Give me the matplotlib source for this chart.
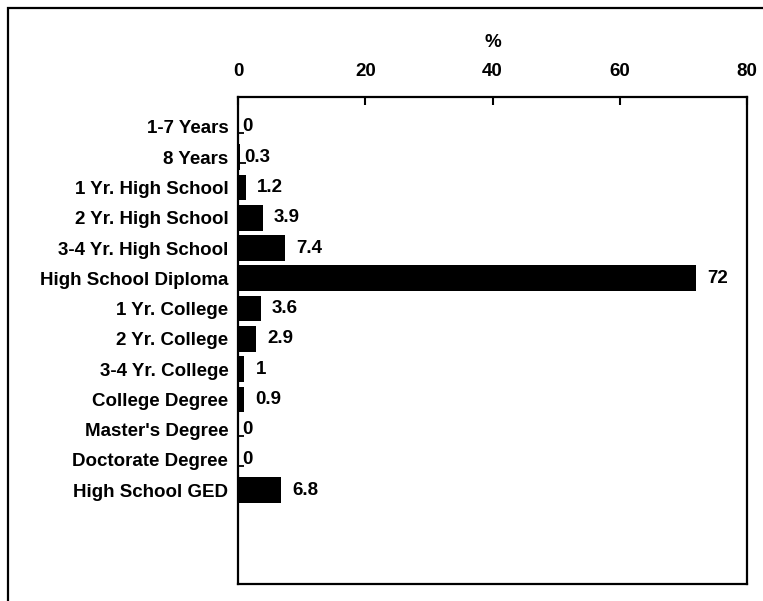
import matplotlib
matplotlib.use("Agg")
import matplotlib.pyplot as plt
from matplotlib.patches import Rectangle

# --- Data ---
categories = ["1-7 Years", "8 Years", "1 Yr. High School", "2 Yr. High School",
              "3-4 Yr. High School", "High School Diploma", "1 Yr. College",
              "2 Yr. College", "3-4 Yr. College", "College Degree",
              "Master's Degree", "Doctorate Degree", "High School GED"]
percent = [0, 0.3, 1.2, 3.9, 7.4, 72, 3.6, 2.9, 1, 0.9, 0, 0, 6.8]
x_ticks = [0, 20, 40, 60, 80]

plt.rcParams['font.family'] = ['Liberation Sans', 'DejaVu Sans']
plt.rcParams['font.weight'] = 'bold'
FS = 13.5

fig = plt.figure(figsize=(7.63, 6.01), dpi=100)
left, right, top, bottom = 238 / 763, 747 / 763, 97 / 601, 584 / 601
ax = fig.add_axes([left, 1 - bottom, right - left, bottom - top])

# outer frame (only left and top edges visible in the reference)
fig.patches.append(Rectangle((0.01, -0.2), 1.5, 1.2 - 0.014, transform=fig.transFigure,
                             fill=False, edgecolor='black', linewidth=1.6))

ypos = list(range(len(categories)))
ax.barh(ypos, percent, height=0.85, color='black')

for y, v in zip(ypos, percent):
    txt = f"{v:g}"
    if v < 0.5:
        # short leader line for tiny values, sitting on the label's baseline
        ax.hlines(y + 0.2, v, v + 1.0, color='black', linewidth=1.3)
        ax.annotate(txt, (v, y), xytext=(3, 0), textcoords='offset points',
                    va='center', ha='left', fontsize=FS)
    else:
        ax.annotate(txt, (v, y), xytext=(8, 0), textcoords='offset points',
                    va='center', ha='left', fontsize=FS)

ax.set_xlim(0, 80)
ax.set_ylim(15.1, -0.99)
ax.set_yticks(ypos)
ax.set_yticklabels(categories, fontsize=FS)
ax.set_xticks(x_ticks)
ax.xaxis.tick_top()
ax.xaxis.set_label_position('top')
ax.set_xlabel('%', fontsize=FS, fontweight='bold', labelpad=12)
ax.tick_params(axis='x', direction='in', length=6, width=1.5, pad=12, labelsize=FS)
ax.tick_params(axis='y', length=0, pad=7)

for s in ax.spines.values():
    s.set_linewidth(1.6)

fig.savefig("out.png", dpi=100)
